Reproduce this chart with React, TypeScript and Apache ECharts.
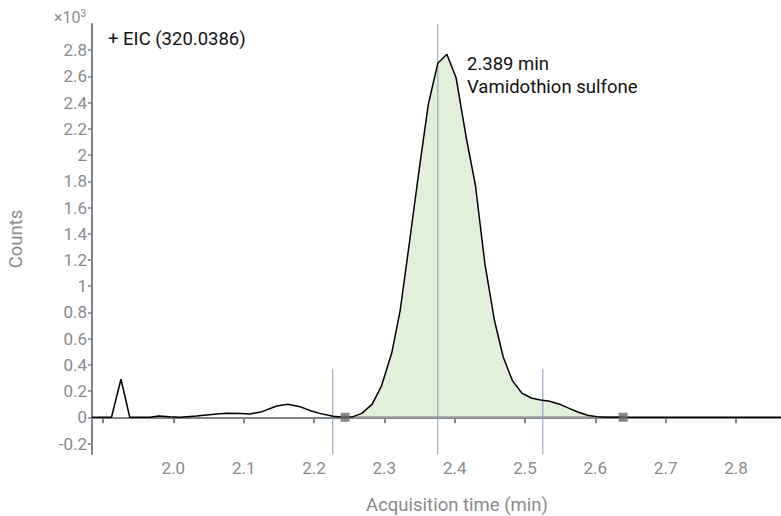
import React, { useEffect, useRef } from "react";
import * as echarts from "echarts";

// Acquisition time (min)
const times = [
  1.884, 1.912, 1.9255, 1.938, 1.967, 1.979, 1.995, 2.009, 2.033, 2.062, 2.076,
  2.095, 2.109, 2.126, 2.147, 2.163, 2.18, 2.195, 2.208, 2.227, 2.2415, 2.2555,
  2.268, 2.2827, 2.296, 2.3105, 2.3225, 2.3356, 2.349, 2.3626, 2.376, 2.3889,
  2.402, 2.4162, 2.4295, 2.443, 2.4565, 2.469, 2.482, 2.4955, 2.509, 2.522,
  2.535, 2.549, 2.562, 2.575, 2.589, 2.602, 2.615, 2.7, 2.864,
];
// Counts (x10^3)
const counts = [
  0, 0, 0.29, 0, 0, 0.01, 0.004, 0, 0.01, 0.025, 0.03,
  0.028, 0.025, 0.043, 0.086, 0.1, 0.081, 0.05, 0.03, 0.008, 0.0, 0.005,
  0.03, 0.1, 0.24, 0.49, 0.816, 1.33, 1.87, 2.39, 2.7, 2.77,
  2.59, 2.14, 1.77, 1.17, 0.74, 0.46, 0.28, 0.185, 0.147, 0.132,
  0.122, 0.1, 0.07, 0.04, 0.016, 0.004, 0, 0, 0,
];

const markerTimes = [2.2441, 2.6395];
const peakLineTimes = [2.2266, 2.376, 2.5253];
const peakLineTops = [0.37, 3.0, 0.37];

const yTickValues = [-0.2, 0, 0.2, 0.4, 0.6, 0.8, 1, 1.2, 1.4, 1.6, 1.8, 2, 2.2, 2.4, 2.6, 2.8];
const xTickValues = [1.9, 2.0, 2.1, 2.2, 2.3, 2.4, 2.5, 2.6, 2.7, 2.8];
const xLabelValues = [2.0, 2.1, 2.2, 2.3, 2.4, 2.5, 2.6, 2.7, 2.8];

const traceTitle = "+ EIC (320.0386)";
const peakTime = "2.389 min";
const compound = "Vamidothion sulfone";

const Y_MIN = -0.28;
const Y_MAX = 3.0;
const X_MIN = 1.8843;
const X_MAX = 2.864;

const FONT = "Roboto, 'Noto Sans', sans-serif";
const GREY = "#80848a";
const LABEL = "#8a8a8a";

export default function App() {
  const ref = useRef<HTMLDivElement>(null);

  useEffect(() => {
    if (!ref.current) return;
    const chart = echarts.init(ref.current, undefined, { renderer: "svg" });

    const trace = times.map((t, i) => [t, counts[i]]);
    const areaData: number[][] = [[markerTimes[0], 0]];
    times.forEach((t, i) => {
      if (t > markerTimes[0] && t < markerTimes[1]) areaData.push([t, counts[i]]);
    });
    areaData.push([markerTimes[1], 0]);

    const vSeries = peakLineTimes.map((t, i) => ({
      type: "line",
      data: [
        [t, Y_MIN],
        [t, peakLineTops[i]],
      ],
      symbol: "none",
      lineStyle: { color: "#7f9dbd", width: 1 },
      z: 3,
      silent: true,
    }));

    chart.setOption({
      animation: false,
      grid: { left: 92, top: 24, right: 0, bottom: 62, containLabel: false, outerBoundsMode: "none" },
      xAxis: {
        type: "value",
        min: X_MIN,
        max: X_MAX,
        axisLine: { show: true, lineStyle: { color: GREY, width: 2 } },
        axisTick: {
          show: true,
          length: 6,
          lineStyle: { color: GREY, width: 2 },
          customValues: xTickValues,
        },
        axisLabel: {
          color: LABEL,
          fontFamily: FONT,
          fontSize: 17,
          margin: 5,
          customValues: xLabelValues,
          formatter: (v: number) => v.toFixed(1),
        },
        splitLine: { show: false },
      },
      yAxis: {
        type: "value",
        min: Y_MIN,
        max: Y_MAX,
        name: "Counts",
        nameLocation: "middle",
        nameGap: 67,
        nameTextStyle: { color: LABEL, fontFamily: FONT, fontSize: 18.5 },
        axisLine: { show: true, lineStyle: { color: GREY, width: 2 } },
        axisTick: {
          show: true,
          length: 4,
          lineStyle: { color: GREY, width: 1.5 },
          customValues: yTickValues,
        },
        axisLabel: {
          color: LABEL,
          fontFamily: FONT,
          fontSize: 17,
          margin: 5,
          customValues: yTickValues,
          formatter: (v: number) => String(Math.round(v * 10) / 10),
        },
        splitLine: { show: false },
      },
      graphic: [
        {
          type: "text",
          x: 54,
          y: 17,
          style: {
            text: "{a|×10}{b|3}",
            verticalAlign: "middle",
            rich: {
              a: { fontSize: 16, fill: LABEL, fontFamily: FONT },
              b: { fontSize: 10, fill: LABEL, fontFamily: FONT, verticalAlign: "top", padding: [0, 0, 7, 0] },
            },
          },
        },
        {
          type: "text",
          x: 108,
          y: 39,
          style: { text: traceTitle, fill: "#111", fontSize: 18.5, fontFamily: FONT, verticalAlign: "middle" },
        },
        {
          type: "text",
          x: 467,
          y: 64,
          style: { text: peakTime, fill: "#111", fontSize: 18.5, fontFamily: FONT, verticalAlign: "middle" },
        },
        {
          type: "text",
          x: 467,
          y: 87,
          style: { text: compound, fill: "#111", fontSize: 18.5, fontFamily: FONT, verticalAlign: "middle" },
        },
        {
          type: "text",
          x: 457,
          y: 505,
          style: {
            text: "Acquisition time (min)",
            fill: LABEL,
            fontSize: 18.5,
            fontFamily: FONT,
            align: "center",
            verticalAlign: "middle",
          },
        },
      ],
      series: [
        {
          type: "line",
          data: areaData,
          symbol: "none",
          lineStyle: { width: 0 },
          areaStyle: { color: "#e2efdb", origin: 0, opacity: 1 },
          z: 1,
          silent: true,
        },
        {
          type: "line",
          data: [
            [markerTimes[0], 0],
            [markerTimes[1], 0],
          ],
          symbol: "none",
          lineStyle: { color: "#9a9a9a", width: 2 },
          z: 2,
          silent: true,
        },
        ...vSeries,
        {
          type: "line",
          data: trace,
          symbol: "none",
          lineStyle: { color: "#000", width: 1.5 },
          z: 4,
          silent: true,
        },
        {
          type: "scatter",
          data: markerTimes.map((t) => [t, 0]),
          symbol: "rect",
          symbolSize: 9,
          itemStyle: { color: "#6b6b6b" },
          z: 5,
          silent: true,
        },
      ],
    });

    return () => chart.dispose();
  }, []);

  return <div ref={ref} style={{ width: 781, height: 516, position: "absolute", left: 0, top: 0 }} />;
}
